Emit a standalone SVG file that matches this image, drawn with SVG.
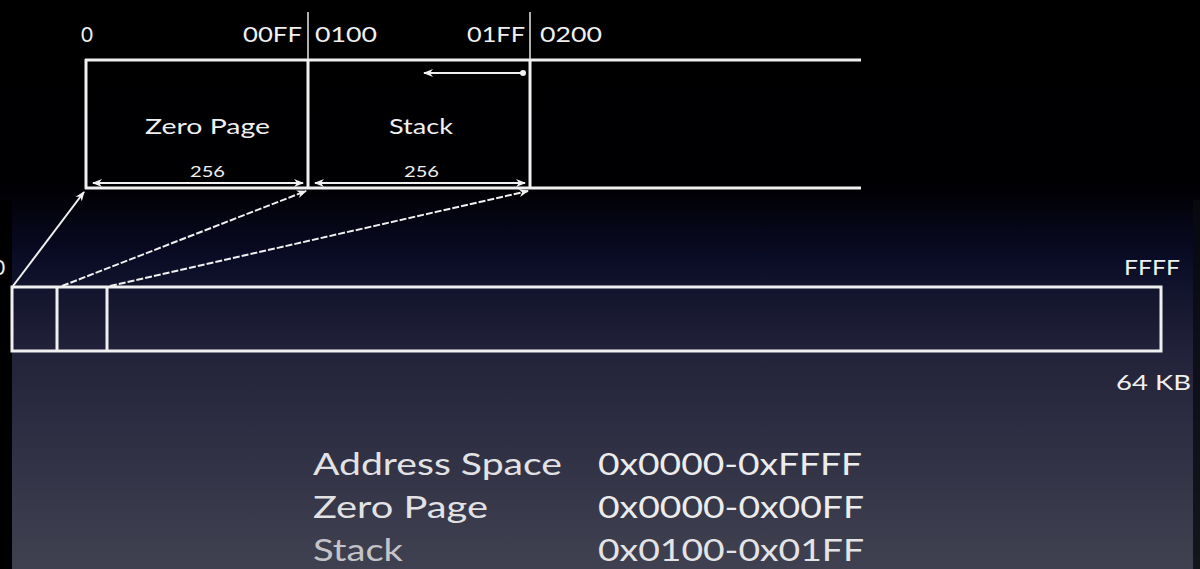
<svg xmlns="http://www.w3.org/2000/svg" width="1200" height="569" viewBox="0 0 1200 569">
<defs>
<linearGradient id="bg" x1="0" y1="0" x2="0" y2="1">
<stop offset="0" stop-color="#000000"/>
<stop offset="0.33" stop-color="#000003"/>
<stop offset="0.45" stop-color="#0a0b25"/>
<stop offset="0.62" stop-color="#22233a"/>
<stop offset="1" stop-color="#404150"/>
</linearGradient>
<marker id="ah" viewBox="0 0 10 10" refX="9" refY="5" markerWidth="5" markerHeight="5" orient="auto-start-reverse">
<path d="M0,1 L10,5 L0,9 L3,5 Z" fill="#f2f2f2"/>
</marker>
<marker id="dot" viewBox="0 0 10 10" refX="5" refY="5" markerWidth="3" markerHeight="3">
<circle cx="5" cy="5" r="5" fill="#f2f2f2"/>
</marker>
<style>
.t{font-family:"Lato","Open Sans","Liberation Sans",sans-serif;fill:#f0f0f0}
.box{fill:none;stroke:#f0f0f0;stroke-width:3}
.thin{stroke:#e8e8e8;stroke-width:1.5}
.dim{stroke:#f0f0f0;stroke-width:2;fill:none}
.conn{stroke:#f0f0f0;stroke-width:2;fill:none;marker-end:url(#ah)}
</style>
</defs>
<rect width="1200" height="569" fill="url(#bg)"/>
<rect x="0" y="200" width="12" height="369" fill="#000"/>
<rect x="1193" y="200" width="7" height="369" fill="#0a0a10" opacity="0.8"/>

<g id="top-addresses">
<text class="t" x="81" y="42" font-size="21" textLength="12" lengthAdjust="spacingAndGlyphs">0</text>
<text class="t" x="243" y="42" font-size="21" textLength="59" lengthAdjust="spacingAndGlyphs">00FF</text>
<text class="t" x="315" y="42" font-size="21" textLength="62" lengthAdjust="spacingAndGlyphs">0100</text>
<text class="t" x="467" y="42" font-size="21" textLength="58" lengthAdjust="spacingAndGlyphs">01FF</text>
<text class="t" x="540" y="42" font-size="21" textLength="62" lengthAdjust="spacingAndGlyphs">0200</text>
</g>

<g id="memory-detail">
<line x1="85" y1="60" x2="861" y2="60" class="box"/>
<line x1="85" y1="188" x2="861" y2="188" class="box"/>
<line x1="86" y1="59" x2="86" y2="189" class="box"/>
<line x1="308" y1="60" x2="308" y2="189" class="box"/>
<line x1="530" y1="60" x2="530" y2="189" class="box"/>
<line x1="308" y1="12" x2="308" y2="60" class="thin"/>
<line x1="530" y1="12" x2="530" y2="60" class="thin"/>
</g>

<g id="zero-page">
<text class="t" x="145" y="134" font-size="22" textLength="125" lengthAdjust="spacingAndGlyphs">Zero Page</text>
<text class="t" x="190" y="177" font-size="15" textLength="35" lengthAdjust="spacingAndGlyphs">256</text>
<line x1="93" y1="183" x2="303" y2="183" class="dim" marker-start="url(#ah)" marker-end="url(#ah)"/>
</g>

<g id="stack">
<text class="t" x="389" y="134" font-size="22" textLength="64" lengthAdjust="spacingAndGlyphs">Stack</text>
<text class="t" x="404" y="177" font-size="15" textLength="35" lengthAdjust="spacingAndGlyphs">256</text>
<line x1="315" y1="183" x2="525" y2="183" class="dim" marker-start="url(#ah)" marker-end="url(#ah)"/>
<line x1="523" y1="73" x2="424" y2="73" class="dim" marker-start="url(#dot)" marker-end="url(#ah)"/>
</g>

<g id="address-space">
<rect x="12" y="287" width="1149" height="64" class="box"/>
<line x1="57" y1="287" x2="57" y2="351" class="box"/>
<line x1="107" y1="287" x2="107" y2="351" class="box"/>
<text class="t" x="-7" y="275" font-size="21">0</text>
<text class="t" x="1124" y="275" font-size="21" textLength="56" lengthAdjust="spacingAndGlyphs">FFFF</text>
<text class="t" x="1116" y="390" font-size="21" textLength="75" lengthAdjust="spacingAndGlyphs">64 KB</text>
</g>

<g id="connectors">
<line x1="13" y1="286" x2="84" y2="192" class="conn"/>
<line x1="62" y1="286" x2="306" y2="191" class="conn" stroke-dasharray="7 2"/>
<line x1="110" y1="286" x2="528" y2="191" class="conn" stroke-dasharray="7 2"/>
</g>

<g id="summary">
<text class="t" x="313" y="475" font-size="30" textLength="249" lengthAdjust="spacingAndGlyphs" style="fill:#e2e2e4">Address Space</text>
<text class="t" x="598" y="475" font-size="30" textLength="264" lengthAdjust="spacingAndGlyphs" style="fill:#ececec">0x0000-0xFFFF</text>
<text class="t" x="313" y="518" font-size="30" textLength="175" lengthAdjust="spacingAndGlyphs" style="fill:#e2e2e4">Zero Page</text>
<text class="t" x="598" y="518" font-size="30" textLength="266" lengthAdjust="spacingAndGlyphs" style="fill:#ececec">0x0000-0x00FF</text>
<text class="t" x="313" y="561" font-size="30" textLength="90" lengthAdjust="spacingAndGlyphs" style="fill:#c4c4c8">Stack</text>
<text class="t" x="598" y="561" font-size="30" textLength="266" lengthAdjust="spacingAndGlyphs" style="fill:#e4e4e6">0x0100-0x01FF</text>
</g>
</svg>
